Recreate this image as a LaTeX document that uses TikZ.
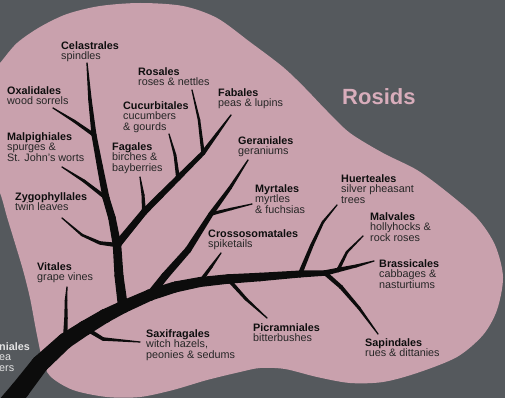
\documentclass[tikz,border=0pt]{standalone}
\usepackage{fontspec}
\setmainfont{Liberation Sans}
\usetikzlibrary{calc}
\definecolor{bgc}{HTML}{55595D}
\definecolor{blobc}{HTML}{C9A1AD}
\definecolor{rosidc}{HTML}{D8ADBB}
\definecolor{treec}{HTML}{0C0C0C}
\definecolor{namec}{HTML}{0E0E0E}
\definecolor{subc}{HTML}{262626}
\definecolor{cutc}{HTML}{E4E4E4}
\newcommand\tseg[4]{%
  \fill[treec] ($(#1)!{#3*0.5pt}!90:(#2)$) -- ($(#2)!{#4*0.5pt}!-90:(#1)$) --
    ($(#2)!{#4*0.5pt}!90:(#1)$) -- ($(#1)!{#3*0.5pt}!-90:(#2)$) -- cycle;
  \fill[treec] (#1) circle[radius={#3*0.5pt}];
  \fill[treec] (#2) circle[radius={#4*0.5pt}];
}
\newcommand\nm[1]{{\bfseries\color{namec}#1}}
\begin{document}
\begin{tikzpicture}[x=1pt,y=-1pt,
  lab/.style={anchor=north west, inner sep=0pt, align=left, text=subc,
    font=\fontsize{10.8}{10.8}\selectfont}]
\useasboundingbox (0,0) rectangle (505,398);
\clip (0,0) rectangle (505,398);
\fill[bgc] (-5,-5) rectangle (510,403);
% blob
\fill[blobc] plot[smooth cycle, tension=0.5] coordinates {
 (-15,80) (0,63) (17,43) (40,27) (67,14) (100,6) (140,3) (183,6) (217,18)
 (250,42) (283,67) (305,88) (327,111) (350,133) (383,153) (417,170) (447,192)
 (477,218) (495,245) (503,277) (497,310) (483,335) (457,357) (417,373)
 (383,382) (350,383) (317,377) (285,369) (260,368) (240,372) (207,380)
 (173,390) (140,397) (107,397) (73,390) (50,376) (42,358) (36,330) (30,298)
 (23,270) (14,240) (7,217) (0,193) (-12,170)};
% coordinates
\coordinate (T0) at (0,414);   \coordinate (T1) at (20,390);
\coordinate (T2) at (40,364);  \coordinate (T3) at (65,341);
\coordinate (T4) at (85,328);  \coordinate (T5) at (105,316);
\coordinate (T6) at (123,307); \coordinate (T7) at (150,295);
\coordinate (T8) at (175,287); \coordinate (T9) at (200,282);
\coordinate (T10) at (228,279);\coordinate (T11) at (260,277);
\coordinate (T12) at (300,274);\coordinate (T13) at (325,273);
\coordinate (M1) at (338,270); \coordinate (B1) at (356,266); \coordinate (Btip) at (374,261);
\coordinate (S1) at (341,287); \coordinate (S2) at (359,308); \coordinate (Stip) at (378,334);
\coordinate (Mv1) at (347,252); \coordinate (Mvtip) at (363,236);
\coordinate (H1) at (312,245); \coordinate (H2) at (323,222); \coordinate (Htip) at (337,205);
\coordinate (P1) at (246,299); \coordinate (Ptip) at (267,318);
\coordinate (C1) at (211,267); \coordinate (Ctip) at (221,253);
\coordinate (X1) at (103,339); \coordinate (Xtip) at (140,342);
\coordinate (V1) at (66,318); \coordinate (V2) at (66,300); \coordinate (Vtip) at (67,287);
\coordinate (L1) at (119,276); \coordinate (L2) at (117,245); \coordinate (L3) at (112,218);
\coordinate (L4) at (106,198); \coordinate (L5) at (100,167); \coordinate (L6) at (94,135);
\coordinate (L7) at (90,100); \coordinate (Ltip) at (87,63);
\coordinate (Mp1) at (84,181); \coordinate (Mptip) at (62,167);
\coordinate (O1) at (74,121); \coordinate (Otip) at (53,108);
\coordinate (Z1) at (100,243); \coordinate (Z2) at (82,235); \coordinate (Ztip) at (62,218);
\coordinate (F1) at (144,212); \coordinate (F2) at (161,195); \coordinate (F3) at (178,178);
\coordinate (F4) at (203,153); \coordinate (F5) at (217,134); \coordinate (Ftip) at (231,115);
\coordinate (Fg1) at (143,195); \coordinate (Fgtip) at (140,177);
\coordinate (Cu1) at (175,155); \coordinate (Cutip) at (169,134);
\coordinate (R1) at (199,120); \coordinate (Rtip) at (192,90);
\coordinate (G1) at (165,276); \coordinate (G2) at (188,250); \coordinate (G3) at (211,214);
\coordinate (G4) at (230,188); \coordinate (Gtip) at (248,160);
\coordinate (My1) at (231,209); \coordinate (Mytip) at (252,204);
% trunk
\tseg{T0}{T1}{20}{19} \tseg{T1}{T2}{19}{17.5} \tseg{T2}{T3}{17.5}{16}
\tseg{T3}{T4}{16}{15} \tseg{T4}{T5}{15}{14} \tseg{T5}{T6}{14}{12.5}
\tseg{T6}{T7}{12.5}{11.5} \tseg{T7}{T8}{11.5}{11} \tseg{T8}{T9}{11}{10}
\tseg{T9}{T10}{10}{9.5} \tseg{T10}{T11}{9.5}{8.5} \tseg{T11}{T12}{8.5}{7}
\tseg{T12}{T13}{7}{5.5}
% right end
\tseg{T13}{M1}{5.5}{4.5} \tseg{M1}{B1}{4.5}{3} \tseg{B1}{Btip}{3}{1.2}
\tseg{T13}{S1}{4.5}{4} \tseg{S1}{S2}{4}{3} \tseg{S2}{Stip}{3}{1.2}
\tseg{M1}{Mv1}{3.5}{2.5} \tseg{Mv1}{Mvtip}{2.5}{1.2}
\tseg{T12}{H1}{4.5}{3.5} \tseg{H1}{H2}{3.5}{2.5} \tseg{H2}{Htip}{2.5}{1.2}
\tseg{T10}{P1}{4}{3} \tseg{P1}{Ptip}{3}{1.2}
\tseg{T9}{C1}{4}{3} \tseg{C1}{Ctip}{3}{1.2}
\tseg{T4}{X1}{4.5}{3.5} \tseg{X1}{Xtip}{3.5}{1.2}
\tseg{T3}{V1}{4.5}{3.5} \tseg{V1}{V2}{3.5}{2.5} \tseg{V2}{Vtip}{2.5}{1.2}
% left branch
\tseg{T6}{L1}{10}{9} \tseg{L1}{L2}{9}{8.5} \tseg{L2}{L3}{8.5}{7.5}
\tseg{L3}{L4}{7.5}{7} \tseg{L4}{L5}{7}{6} \tseg{L5}{L6}{6}{5}
\tseg{L6}{L7}{5}{3.5} \tseg{L7}{Ltip}{3.5}{1.3}
\tseg{L4}{Mp1}{4}{3} \tseg{Mp1}{Mptip}{3}{1.2}
\tseg{L6}{O1}{3.8}{2.8} \tseg{O1}{Otip}{2.8}{1.2}
\tseg{L2}{Z1}{4.5}{3.5} \tseg{Z1}{Z2}{3.5}{2.5} \tseg{Z2}{Ztip}{2.5}{1.2}
% Fabales branch
\tseg{L2}{F1}{7.5}{6.5} \tseg{F1}{F2}{6.5}{6} \tseg{F2}{F3}{6}{5.5}
\tseg{F3}{F4}{5.5}{4.5} \tseg{F4}{F5}{4.5}{3} \tseg{F5}{Ftip}{3}{1.3}
\tseg{F1}{Fg1}{4}{3} \tseg{Fg1}{Fgtip}{3}{1.2}
\tseg{F3}{Cu1}{3.8}{2.8} \tseg{Cu1}{Cutip}{2.8}{1.2}
\tseg{F4}{R1}{3.5}{2.5} \tseg{R1}{Rtip}{2.5}{1.2}
% Geraniales branch
\tseg{T7}{G1}{8}{7.5} \tseg{G1}{G2}{7.5}{6.5} \tseg{G2}{G3}{6.5}{5}
\tseg{G3}{G4}{5}{3.5} \tseg{G4}{Gtip}{3.5}{1.3}
\tseg{G3}{My1}{3.5}{2.5} \tseg{My1}{Mytip}{2.5}{1.2}
% labels
\node[lab] (celas) at (61,41) {\nm{Celastrales}\\spindles};
\node[lab] (oxal) at (7,86) {\nm{Oxalidales}\\wood sorrels};
\node[lab] (malp) at (7,132) {\nm{Malpighiales}\\spurges \&\\St. John's worts};
\node[lab] (zygo) at (15,192) {\nm{Zygophyllales}\\twin leaves};
\node[lab] (vita) at (37,262) {\nm{Vitales}\\grape vines};
\node[lab] (saxi) at (146,329) {\nm{Saxifragales}\\witch hazels,\\peonies \& sedums};
\node[lab] (rosa) at (138,67) {\nm{Rosales}\\roses \& nettles};
\node[lab] (cucu) at (123,101) {\nm{Cucurbitales}\\cucumbers\\\& gourds};
\node[lab] (faga) at (112,142) {\nm{Fagales}\\birches \&\\bayberries};
\node[lab] (faba) at (218,88) {\nm{Fabales}\\peas \& lupins};
\node[lab] (gera) at (238,136) {\nm{Geraniales}\\geraniums};
\node[lab] (myrt) at (255,184) {\nm{Myrtales}\\myrtles\\\& fuchsias};
\node[lab] (cros) at (208,229) {\nm{Crossosomatales}\\spiketails};
\node[lab] (huer) at (341,174) {\nm{Huerteales}\\silver pheasant\\trees};
\node[lab] (malv) at (370,212) {\nm{Malvales}\\hollyhocks \&\\rock roses};
\node[lab] (bras) at (379,259) {\nm{Brassicales}\\cabbages \&\\nasturtiums};
\node[lab] (picr) at (253,323) {\nm{Picramniales}\\bitterbushes};
\node[lab] (sapi) at (365,338) {\nm{Sapindales}\\rues \& dittanies};
\node[lab, text=cutc] (cut) at (-1,342) {\textbf{niales}\\ea\\ers};
\node[anchor=north west, inner sep=0pt, text=rosidc,
  font=\fontsize{22}{22}\selectfont\bfseries] (rosids) at (342,88) {Rosids};
\end{tikzpicture}
\end{document}
